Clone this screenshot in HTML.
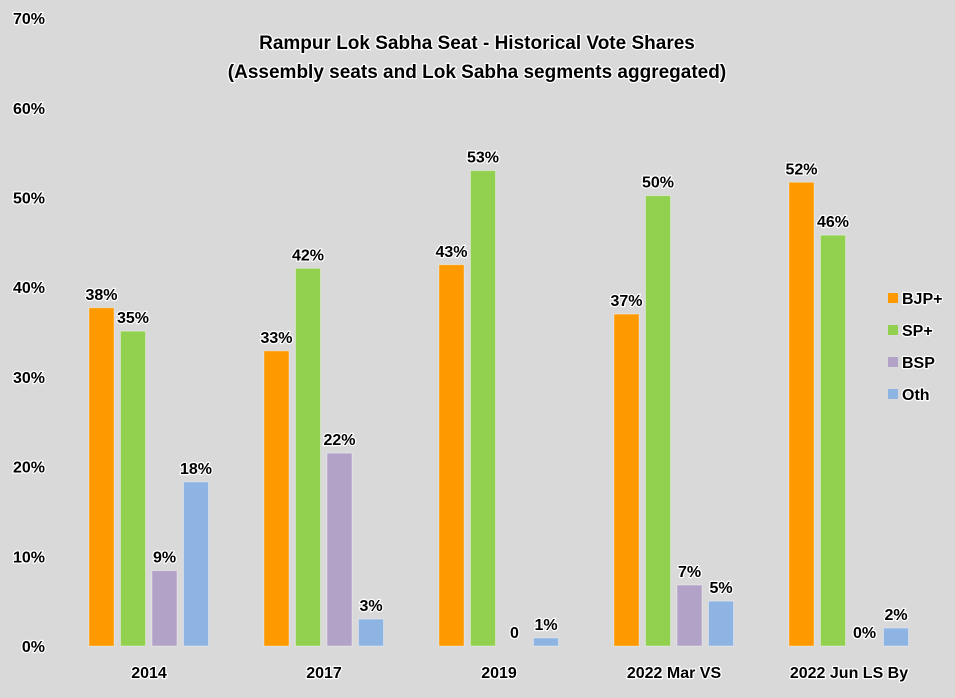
<!DOCTYPE html>
<html><head><meta charset="utf-8"><style>
body{margin:0;background:#d9d9d9;}
svg text{font-family:"Liberation Sans",Arial,sans-serif;font-weight:bold;fill:#000;paint-order:stroke;stroke:#fff;stroke-width:2.5px;stroke-linejoin:round;}
</style></head><body>
<svg id="chart" width="955" height="693" xmlns="http://www.w3.org/2000/svg">
<rect width="955" height="693" fill="#d9d9d9"/>
<text x="477" y="49" font-size="19" text-anchor="middle">Rampur Lok Sabha Seat - Historical Vote Shares</text>
<text x="477" y="78" font-size="19" text-anchor="middle">(Assembly seats and Lok Sabha segments aggregated)</text>
<g id="axis"></g><g id="bars"></g><g id="legend"></g>
</svg>
<script>
const categories=["2014","2017","2019","2022 Mar VS","2022 Jun LS By"];
const seriesNames=["BJP+","SP+","BSP","Oth"];
const bjp=[37.7,32.9,42.5,37.0,51.7];
const sp=[35.1,42.1,53.0,50.2,45.8];
const bsp=[8.4,21.5,0,6.8,0];
const oth=[18.3,3.0,0.9,5.0,2.0];
const bjpLabels=["38%","33%","43%","37%","52%"];
const spLabels=["35%","42%","53%","50%","46%"];
const bspLabels=["9%","22%","0","7%","0%"];
const othLabels=["18%","3%","1%","5%","2%"];
const yTicks=[0,10,20,30,40,50,60,70];
const colors=["#ff9900","#92d050","#b3a2c7","#8eb4e3"];
const NS="http://www.w3.org/2000/svg";
const y0=646,pxPer=8.97;
function y(v){return y0-v*pxPer;}
function xc(i){return 149+i*175;}
function mk(t,a,p){const e=document.createElementNS(NS,t);for(const k in a)e.setAttribute(k,a[k]);p.appendChild(e);return e;}
const ax=document.getElementById('axis');
yTicks.forEach(t=>{const e=mk('text',{x:45,y:y(t)+6,'font-size':16,'text-anchor':'end'},ax);e.textContent=t+'%';

});
categories.forEach((c,i)=>{const e=mk('text',{x:xc(i),y:678,'font-size':16,'text-anchor':'middle'},ax);e.textContent=c;

});
const series=[bjp,sp,bsp,oth],labels=[bjpLabels,spLabels,bspLabels,othLabels];
const bg=document.getElementById('bars');
categories.forEach((c,i)=>{series.forEach((s,j)=>{
 const x=xc(i)-60+j*31.5,w=25,v=s[i];
 if(v>0){const r=mk('rect',{x:x,y:y(v),width:w,height:y0-y(v),fill:colors[j],stroke:"rgba(255,255,255,0.35)","stroke-width":1},bg);
 
 }
 const t=mk('text',{x:x+w/2,y:y(v)-8,'font-size':16,'text-anchor':'middle'},bg);t.textContent=labels[j][i];
 
 
});});
const lg=document.getElementById('legend');
seriesNames.forEach((n,j)=>{const g=mk('g',{},lg);


mk('rect',{x:888,y:293+j*32,width:10,height:10,fill:colors[j]},g);
const t=mk('text',{x:902,y:304+j*32,'font-size':16},g);t.textContent=n;});
</script>
</body></html>
